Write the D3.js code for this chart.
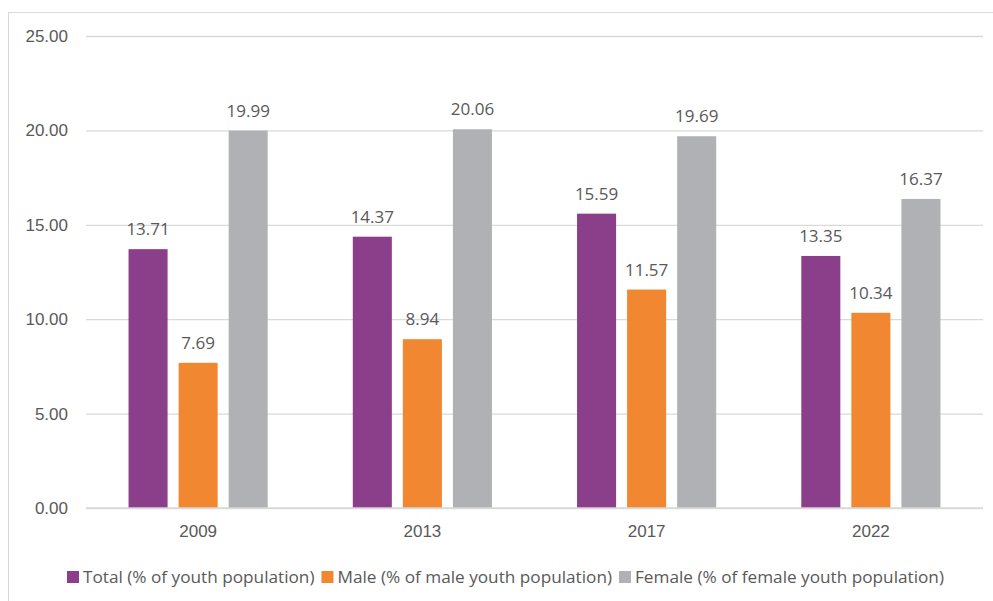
<!DOCTYPE html>
<html>
<head>
<meta charset="utf-8">
<script src="https://cdn.jsdelivr.net/npm/d3@7"></script>
<style>
  body { margin: 0; background: #fff; }
  svg { display: block; font-family: "Open Sans", "Noto Sans", sans-serif; }
</style>
</head>
<body>
<svg id="chart" width="993" height="601"></svg>
<script>
// Youth rates by year, in percent
const years = ["2009", "2013", "2017", "2022"];
const seriesNames = [
  "Total (% of youth population)",
  "Male (% of male youth population)",
  "Female (% of female youth population)"
];
const totalValues = [13.71, 14.37, 15.59, 13.35];
const maleValues = [7.69, 8.94, 11.57, 10.34];
const femaleValues = [19.99, 20.06, 19.69, 16.37];
const yTicks = [0, 5, 10, 15, 20, 25];
const colors = ["#8b3f8b", "#f28731", "#b0b1b4"];

const seriesValues = [totalValues, maleValues, femaleValues];
const rows = years.map((y, i) => ({
  year: y,
  values: seriesValues.map((vals, s) => ({ key: s, value: vals[i] }))
}));

const svg = d3.select("#chart");
const W = 993, H = 601;
const margin = { left: 86, right: 10, top: 36, bottom: 93 };
const fs = 17;

// outer chart frame
svg.append("rect")
  .attr("x", 8.5).attr("y", 12.5)
  .attr("width", 1000).attr("height", 700)
  .attr("fill", "none").attr("stroke", "#d9d9d9").attr("stroke-width", 1);

const x = d3.scaleBand()
  .domain(years)
  .range([margin.left, W - margin.right]);

const xInner = d3.scaleBand()
  .domain(d3.range(seriesNames.length))
  .range([0, x.bandwidth()])
  .paddingInner(0.22)
  .paddingOuter(0.85);

const y = d3.scaleLinear()
  .domain([0, 25])
  .range([H - margin.bottom, margin.top]);

// gridlines + y labels
const yAxis = d3.axisLeft(y)
  .tickValues(yTicks)
  .tickSize(-(W - margin.right - margin.left))
  .tickFormat(d3.format(".2f"));

const gy = svg.append("g")
  .attr("transform", `translate(${margin.left},0)`)
  .call(yAxis);
gy.select(".domain").remove();
gy.selectAll(".tick line").attr("stroke", "#d9d9d9").attr("stroke-width", 1.3);
gy.selectAll(".tick text")
  .attr("fill", "#595959").attr("font-size", fs).attr("x", -18);

// x axis labels
const xAxis = d3.axisBottom(x).tickSize(0).tickPadding(17);
const gx = svg.append("g")
  .attr("transform", `translate(0,${y(0)})`)
  .call(xAxis);
gx.select(".domain").remove();
gx.selectAll(".tick text").attr("fill", "#595959").attr("font-size", fs);

// bars
const groups = svg.append("g").selectAll("g")
  .data(rows).join("g")
  .attr("transform", d => `translate(${x(d.year)},0)`);

groups.selectAll("rect")
  .data(d => d.values).join("rect")
  .attr("x", d => xInner(d.key))
  .attr("width", xInner.bandwidth())
  .attr("y", d => y(d.value))
  .attr("height", d => y(0) - y(d.value))
  .attr("fill", d => colors[d.key]);

// value labels
groups.selectAll("text.val")
  .data(d => d.values).join("text")
  .attr("class", "val")
  .attr("x", d => xInner(d.key) + xInner.bandwidth() / 2)
  .attr("y", d => y(d.value) - 14)
  .attr("text-anchor", "middle")
  .attr("font-size", fs)
  .attr("fill", "#595959")
  .text(d => d.value.toFixed(2));

// zero baseline
svg.append("line")
  .attr("x1", margin.left).attr("x2", W - margin.right)
  .attr("y1", y(0)).attr("y2", y(0))
  .attr("stroke", "#d9d9d9").attr("stroke-width", 1.3);

// legend, laid out left to right from measured text widths
const legend = svg.append("g").selectAll("g")
  .data(seriesNames).join("g");
legend.append("rect")
  .attr("x", 0).attr("y", -6).attr("width", 12).attr("height", 12)
  .attr("fill", (d, i) => colors[i]);
legend.append("text")
  .attr("x", 16).attr("y", 0).attr("dy", "0.35em")
  .attr("font-size", 17.2).attr("fill", "#595959")
  .text(d => d);
let lx = 67;
legend.each(function () {
  const g = d3.select(this);
  g.attr("transform", `translate(${lx},577)`);
  lx += 16 + g.select("text").node().getComputedTextLength() + 7;
});
</script>
</body>
</html>
